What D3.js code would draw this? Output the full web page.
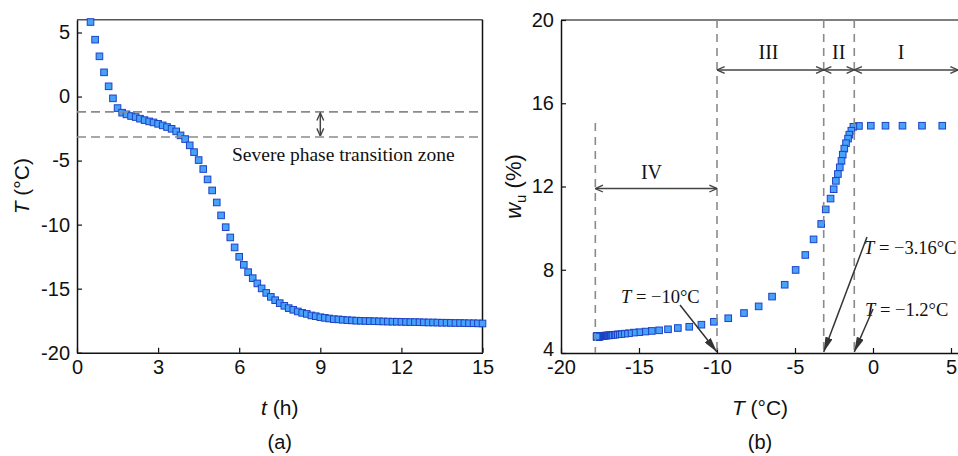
<!DOCTYPE html>
<html>
<head>
<meta charset="utf-8">
<script src="https://cdn.jsdelivr.net/npm/d3@7"></script>
<style>
  body { margin: 0; background: #fff; }
  svg { display: block; }
  .tick text { font-family: "Liberation Sans", Arial, sans-serif; font-size: 20px; fill: #111; }
  .sans { font-family: "Liberation Sans", Arial, sans-serif; fill: #111; }
  .serif { font-family: "Liberation Serif", "Times New Roman", serif; fill: #111; }
</style>
</head>
<body>
<svg id="chart" width="958" height="456"></svg>
<script>
// Freezing test: sample temperature over time (a) and unfrozen water content vs temperature (b)
const hours = [
  0.50, 0.67, 0.83, 1.00, 1.17, 1.33, 1.50, 1.67, 1.83, 2.00,
  2.17, 2.33, 2.50, 2.67, 2.83, 3.00, 3.17, 3.33, 3.50, 3.67,
  3.83, 4.00, 4.17, 4.33, 4.50, 4.67, 4.83, 5.00, 5.17, 5.33,
  5.50, 5.67, 5.83, 6.00, 6.17, 6.33, 6.50, 6.67, 6.83, 7.00,
  7.17, 7.33, 7.50, 7.67, 7.83, 8.00, 8.17, 8.33, 8.50, 8.67,
  8.83, 9.00, 9.17, 9.33, 9.50, 9.67, 9.83, 10.00, 10.17, 10.33,
  10.50, 10.67, 10.83, 11.00, 11.17, 11.33, 11.50, 11.67, 11.83, 12.00,
  12.17, 12.33, 12.50, 12.67, 12.83, 13.00, 13.17, 13.33, 13.50, 13.67,
  13.83, 14.00, 14.17, 14.33, 14.50, 14.67, 14.83, 15.00
];
const temperature = [
  5.82, 4.44, 3.14, 1.89, 0.80, -0.14, -0.90, -1.26, -1.39, -1.52,
  -1.60, -1.73, -1.84, -1.94, -2.02, -2.13, -2.25, -2.38, -2.52, -2.72,
  -3.03, -3.32, -3.81, -4.34, -4.96, -5.66, -6.47, -7.33, -8.27, -9.28,
  -10.20, -11.00, -11.78, -12.51, -13.14, -13.71, -14.18, -14.59, -14.98, -15.33,
  -15.64, -15.90, -16.13, -16.34, -16.52, -16.65, -16.78, -16.89, -16.97, -17.09,
  -17.15, -17.23, -17.28, -17.33, -17.38, -17.40, -17.43, -17.46, -17.48, -17.50,
  -17.51, -17.52, -17.53, -17.54, -17.55, -17.56, -17.57, -17.58, -17.58, -17.59,
  -17.60, -17.61, -17.61, -17.62, -17.63, -17.64, -17.64, -17.65, -17.66, -17.66,
  -17.67, -17.68, -17.68, -17.69, -17.70, -17.70, -17.71, -17.72
];
const unfrozenWater = [
  14.92, 14.92, 14.92, 14.92, 14.92, 14.92, 14.91, 14.87, 14.68, 14.49,
  14.30, 14.08, 13.82, 13.53, 13.23, 12.92, 12.60, 12.27, 11.87, 11.42,
  10.90, 10.20, 9.46, 8.71, 7.99, 7.28, 6.71, 6.24, 5.92, 5.67,
  5.50, 5.36, 5.26, 5.20, 5.14, 5.09, 5.06, 5.03, 5.00, 4.98,
  4.95, 4.93, 4.91, 4.90, 4.88, 4.87, 4.86, 4.85, 4.85, 4.84,
  4.83, 4.83, 4.82, 4.82, 4.82, 4.81, 4.81, 4.81, 4.81, 4.80,
  4.80, 4.80, 4.80, 4.80, 4.80, 4.80, 4.80, 4.80, 4.80, 4.80,
  4.80, 4.80, 4.80, 4.79, 4.79, 4.79, 4.79, 4.79, 4.79, 4.79,
  4.79, 4.79, 4.79, 4.79, 4.79, 4.79, 4.79, 4.79
];

const hourTicks = [0, 3, 6, 9, 12, 15];
const tempTicksA = [-20, -15, -10, -5, 0, 5];
const tempTicksB = [-20, -15, -10, -5, 0, 5];
const waterTicks = [4, 8, 12, 16, 20];

// Phase boundaries (°C)
const startFreeze = -1.2;
const endSevere = -3.16;
const deepFreeze = -10;
const coldest = -17.8;

const stageLabels = ["IV", "III", "II", "I"];

const fillBlue = "#46a2fb";
const edgeBlue = "#1f42c4";
const dashGray = "#8a8a8a";
const arrowGray = "#444";

const svg = d3.select("#chart");
const defs = svg.append("defs");

defs.append("marker")
  .attr("id", "openHead")
  .attr("markerUnits", "userSpaceOnUse")
  .attr("viewBox", "0 0 10 10")
  .attr("refX", 9.5).attr("refY", 5)
  .attr("markerWidth", 9).attr("markerHeight", 9)
  .attr("orient", "auto-start-reverse")
  .append("path")
  .attr("d", "M1,1.2 L9.5,5 L1,8.8")
  .attr("fill", "none").attr("stroke", arrowGray).attr("stroke-width", 1.5);

defs.append("marker")
  .attr("id", "solidHead")
  .attr("markerUnits", "userSpaceOnUse")
  .attr("viewBox", "0 0 14 7")
  .attr("refX", 14).attr("refY", 3.5)
  .attr("markerWidth", 15).attr("markerHeight", 7.5)
  .attr("orient", "auto")
  .append("path")
  .attr("d", "M0,0 L14,3.5 L0,7 Z")
  .attr("fill", "#333");

function styleAxis(g) {
  g.select(".domain").attr("stroke", "#111").attr("stroke-width", 1.5);
  g.selectAll(".tick line").attr("stroke", "#111").attr("stroke-width", 1.2);
}

function squares(g, data, xs, ys) {
  g.selectAll("rect.pt").data(data).join("rect")
    .attr("class", "pt")
    .attr("x", d => xs(d[0]) - 3.3)
    .attr("y", d => ys(d[1]) - 3.3)
    .attr("width", 6.6).attr("height", 6.6)
    .attr("fill", fillBlue)
    .attr("stroke", edgeBlue)
    .attr("stroke-width", 1);
}

/* ---------- (a) temperature vs time ---------- */
const xA = d3.scaleLinear().domain([0, 15]).range([77, 482.5]);
const yA = d3.scaleLinear().domain([-20, 6]).range([352.7, 19.7]);
const gA = svg.append("g");

// frame top / right
gA.append("line").attr("x1", xA(0)).attr("x2", xA(15)).attr("y1", yA(6)).attr("y2", yA(6))
  .attr("stroke", "#555").attr("stroke-width", 1.5);
gA.append("line").attr("x1", xA(15)).attr("x2", xA(15)).attr("y1", yA(6)).attr("y2", yA(-20))
  .attr("stroke", "#111").attr("stroke-width", 1.5);

gA.append("g").attr("transform", `translate(0,${yA(-20)})`)
  .call(d3.axisBottom(xA).tickValues(hourTicks).tickSizeInner(-5).tickSizeOuter(0)
    .tickPadding(7).tickFormat(d => String(d)))
  .call(styleAxis);
gA.append("g").attr("transform", `translate(${xA(0)},0)`)
  .call(d3.axisLeft(yA).tickValues(tempTicksA).tickSizeInner(-5).tickSizeOuter(0)
    .tickPadding(7).tickFormat(d => String(d)))
  .call(styleAxis);

squares(gA, hours.map((h, i) => [h, temperature[i]]), xA, yA);

[startFreeze, endSevere].forEach(v => {
  gA.append("line")
    .attr("x1", xA(0)).attr("x2", xA(15)).attr("y1", yA(v)).attr("y2", yA(v))
    .attr("stroke", dashGray).attr("stroke-width", 1.6).attr("stroke-dasharray", "9,5");
});

gA.append("line")
  .attr("x1", xA(9)).attr("x2", xA(9))
  .attr("y1", yA(startFreeze) + 1).attr("y2", yA(endSevere) - 1)
  .attr("stroke", arrowGray).attr("stroke-width", 1.5)
  .attr("marker-start", "url(#openHead)").attr("marker-end", "url(#openHead)");

gA.append("text").attr("class", "serif")
  .attr("x", xA(9.85)).attr("y", 161)
  .attr("text-anchor", "middle").attr("font-size", 19.5)
  .text("Severe phase transition zone");

const yLabA = gA.append("text").attr("class", "sans")
  .attr("transform", `translate(29,${(yA(6) + yA(-20)) / 2}) rotate(-90)`)
  .attr("text-anchor", "middle").attr("font-size", 21);
yLabA.append("tspan").attr("font-style", "italic").text("T");
yLabA.append("tspan").text(" (°C)");

const xLabA = gA.append("text").attr("class", "sans")
  .attr("x", (xA(0) + xA(15)) / 2).attr("y", 415)
  .attr("text-anchor", "middle").attr("font-size", 21);
xLabA.append("tspan").attr("font-style", "italic").text("t");
xLabA.append("tspan").text(" (h)");

gA.append("text").attr("class", "sans")
  .attr("x", (xA(0) + xA(15)) / 2).attr("y", 449)
  .attr("text-anchor", "middle").attr("font-size", 20).text("(a)");

/* ---------- (b) unfrozen water content vs temperature ---------- */
const xB = d3.scaleLinear().domain([-20, 6]).range([561, 966.6]);
const yB = d3.scaleLinear().domain([4, 20]).range([353, 20]);
const gB = svg.append("g");

gB.append("line").attr("x1", xB(-20)).attr("x2", xB(6)).attr("y1", yB(20)).attr("y2", yB(20))
  .attr("stroke", "#555").attr("stroke-width", 1.5);

gB.append("g").attr("transform", `translate(0,${yB(4)})`)
  .call(d3.axisBottom(xB).tickValues(tempTicksB).tickSizeInner(-5).tickSizeOuter(0)
    .tickPadding(7).tickFormat(d => String(d)))
  .call(styleAxis);
const yAxisB = gB.append("g").attr("transform", `translate(${xB(-20)},0)`)
  .call(d3.axisLeft(yB).tickValues(waterTicks).tickSizeInner(-5).tickSizeOuter(0)
    .tickPadding(7).tickFormat(d => String(d)))
  .call(styleAxis);
// lift the lowest label a little so it clears the corner
yAxisB.selectAll(".tick text").filter(d => d === 4).attr("dy", "0.1em");

squares(gB, temperature.map((t, i) => [t, unfrozenWater[i]]), xB, yB);

// stage boundaries
[[deepFreeze, 20], [endSevere, 20], [startFreeze, 20], [coldest, 15.05]].forEach(([t, top]) => {
  gB.append("line")
    .attr("x1", xB(t)).attr("x2", xB(t)).attr("y1", yB(top)).attr("y2", yB(4))
    .attr("stroke", dashGray).attr("stroke-width", 1.6).attr("stroke-dasharray", "8,6");
});

// stage spans
const spans = [
  [coldest, deepFreeze, 11.9, -14.2, 12.7],
  [deepFreeze, endSevere, 17.6, -6.7, 18.45],
  [endSevere, startFreeze, 17.6, -2.2, 18.45],
  [startFreeze, 5.45, 17.6, 1.8, 18.45]
];
spans.forEach(([a, b, w, lx, ly], i) => {
  gB.append("line")
    .attr("x1", xB(a)).attr("x2", xB(b)).attr("y1", yB(w)).attr("y2", yB(w))
    .attr("stroke", arrowGray).attr("stroke-width", 1.5)
    .attr("marker-start", "url(#openHead)").attr("marker-end", "url(#openHead)");
  gB.append("text").attr("class", "serif")
    .attr("x", xB(lx)).attr("y", yB(ly)).attr("dy", "0.35em")
    .attr("text-anchor", "middle").attr("font-size", 20)
    .attr("fill", stageLabels[i] === "II" ? "#555" : "#111")
    .text(stageLabels[i]);
});

// point annotations
const notes = [
  { t: deepFreeze, label: "−10°C", tx: 621, ty: 303, from: [680, 305] },
  { t: endSevere, label: "−3.16°C", tx: 864, ty: 254, from: [867, 237] },
  { t: startFreeze, label: "−1.2°C", tx: 865, ty: 316, from: [873, 309] }
];
notes.forEach(n => {
  const txt = gB.append("text").attr("class", "serif")
    .attr("x", n.tx).attr("y", n.ty).attr("font-size", 18.5);
  txt.append("tspan").attr("font-style", "italic").text("T");
  txt.append("tspan").text(" = " + n.label);
  gB.append("line")
    .attr("x1", n.from[0]).attr("y1", n.from[1])
    .attr("x2", xB(n.t)).attr("y2", yB(4) - 1)
    .attr("stroke", "#333").attr("stroke-width", 1.5)
    .attr("marker-end", "url(#solidHead)");
});

const yLabB = gB.append("text").attr("class", "sans")
  .attr("transform", `translate(521,${(yB(20) + yB(4)) / 2}) rotate(-90)`)
  .attr("text-anchor", "middle").attr("font-size", 22);
yLabB.append("tspan").attr("font-style", "italic").text("w");
yLabB.append("tspan").attr("font-size", 15).attr("dy", 5).text("u");
yLabB.append("tspan").attr("dy", -5).text(" (%)");

const xLabB = gB.append("text").attr("class", "sans")
  .attr("x", 760).attr("y", 415)
  .attr("text-anchor", "middle").attr("font-size", 21);
xLabB.append("tspan").attr("font-style", "italic").text("T");
xLabB.append("tspan").text(" (°C)");

gB.append("text").attr("class", "sans")
  .attr("x", 760).attr("y", 449)
  .attr("text-anchor", "middle").attr("font-size", 20).text("(b)");
</script>
</body>
</html>
